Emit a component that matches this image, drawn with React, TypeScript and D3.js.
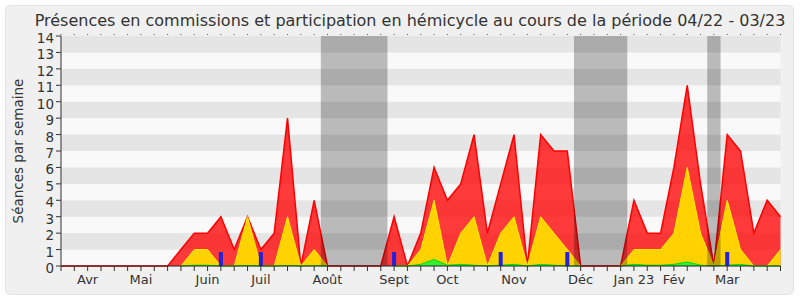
import React from "react";
import * as d3 from "d3";

const title = "Présences en commissions et participation en hémicycle au cours de la période 04/22 - 03/23";
const yLabel = "Séances par semaine";

// weekly values, week index 0..54
const redValues: number[] = [
  0, 0, 0, 0, 0, 0, 0, 0, 0, 1,
  2, 2, 3, 1, 3, 1, 2, 9, 0, 4,
  0, 0, 0, 0, 0, 3, 0, 2, 6, 4,
  5, 8, 2, 5, 8, 0, 8, 7, 7, 0,
  0, 0, 0, 4, 2, 2, 6, 11, 5, 0,
  8, 7, 2, 4, 3,
];
const yellowValues: (number | null)[] = [
  null, null, null, null, null, null, null, null, null, 0,
  1, 1, 0, 0, 3, 0, 0, 3, 0, 1,
  0, null, null, null, null, 0, 0, 1, 4, 0,
  2, 3, 0, 2, 3, 0, 3, 2, 1, 0,
  null, null, 0, 1, 1, 1, 2, 6, 2, 0,
  4, 1, 0, 0, 1,
];
const greenValues: (number | null)[] = [
  null, null, null, null, null, null, null, null, null, 0,
  0.05, 0.05, 0, 0, 0.03, 0, 0, 0.03, 0, 0.02,
  0, null, null, null, null, 0, 0, 0.1, 0.4, 0.05,
  0.1, 0.05, 0, 0.05, 0.1, 0, 0.1, 0.05, 0, 0,
  null, null, 0, 0.1, 0.05, 0.05, 0.1, 0.25, 0.05, 0,
  0.05, 0.1, 0, 0, 0,
];
const blueWeeks: number[] = [12, 15, 25, 33, 38, 50];
const blueValues: number[] = [0.85, 0.85, 0.85, 0.85, 0.85, 0.85];

const holidayStarts: number[] = [19.5, 38.5, 48.5];
const holidayEnds: number[] = [24.5, 42.5, 49.5];

const monthLabels: string[] = ["Avr", "Mai", "Juin", "Juil", "Août", "Sept", "Oct", "Nov", "Déc", "Jan 23", "Fév", "Mar"];
const monthWeeks: number[] = [2, 6, 11, 15, 20, 25, 29, 34, 39, 43, 46, 50];

const yTicks: number[] = d3.range(0, 15);

const W = 800;
const H = 300;
const FONT = "'DejaVu Sans', Verdana, sans-serif";

export default function App() {
  const nWeeks = redValues.length;
  const x = d3.scaleLinear().domain([0, nWeeks - 1]).range([61, 780.5]);
  const y = d3.scaleLinear().domain([0, 14]).range([266, 36]);

  type P = { i: number; v: number | null };
  const mk = (arr: (number | null)[]): P[] => arr.map((v, i) => ({ i, v }));

  const area = d3
    .area<P>()
    .defined((d) => d.v !== null)
    .x((d) => x(d.i))
    .y0(y(0))
    .y1((d) => y(d.v as number));
  const line = d3
    .line<P>()
    .defined((d) => d.v !== null)
    .x((d) => x(d.i))
    .y((d) => y(d.v as number));

  const red = mk(redValues);
  const yellow = mk(yellowValues);
  const green = mk(greenValues);

  const weeks = d3.range(0, nWeeks);

  return (
    <svg
      width={W}
      height={H}
      style={{ position: "absolute", left: 0, top: 0, background: "#fff" }}
      fontFamily={FONT}
    >
      <rect x={5.5} y={5.5} width={788} height={289} rx={5} fill="#f0f0f0" stroke="#e2e2e2" />
      <text x={410} y={26} textAnchor="middle" fontSize={16} fill="#333">
        {title}
      </text>

      {/* background bands */}
      {d3.range(0, 14).map((k) => (
        <rect
          key={"b" + k}
          x={x(0)}
          y={y(k + 1)}
          width={x(nWeeks - 1) - x(0)}
          height={y(k) - y(k + 1)}
          fill={k % 2 === 1 ? "#e5e5e5" : "#f9f9f9"}
        />
      ))}

      {/* red */}
      <path d={area(red) || ""} fill="rgba(255,0,0,0.77)" />
      <path d={line(red) || ""} fill="none" stroke="#ff0000" strokeWidth={1.5} />
      {/* yellow */}
      <path d={area(yellow) || ""} fill="#ffd200" />
      <path d={line(yellow) || ""} fill="none" stroke="#ffee00" strokeWidth={1} />
      {/* green */}
      <path d={area(green) || ""} fill="#33ee33" />
      <path d={line(green) || ""} fill="none" stroke="#00dd00" strokeWidth={1} />

      {/* holidays */}
      {holidayStarts.map((s, k) => (
        <rect
          key={"h" + k}
          x={x(s)}
          y={y(14)}
          width={x(holidayEnds[k]) - x(s)}
          height={y(0) - y(14)}
          fill="rgba(0,0,0,0.25)"
        />
      ))}

      {/* blue bars */}
      {blueWeeks.map((w, k) => (
        <rect
          key={"q" + k}
          x={x(w) - 2}
          y={y(blueValues[k])}
          width={4}
          height={y(0) - y(blueValues[k])}
          fill="#2222dd"
        />
      ))}

      {/* y axis */}
      <line x1={61} x2={61} y1={y(14)} y2={y(0)} stroke="#333" />
      {yTicks.map((t) => (
        <g key={"yt" + t}>
          <line x1={56} x2={61} y1={y(t)} y2={y(t)} stroke="#333" />
          <text x={54} y={y(t) + 7} textAnchor="end" fontSize={13.5} fill="#333">
            {t}
          </text>
        </g>
      ))}
      <text
        transform={`translate(23,${(y(0) + y(14)) / 2}) rotate(-90)`}
        textAnchor="middle"
        fontSize={13.5}
        fill="#333"
      >
        {yLabel}
      </text>

      {/* x axis */}
      <line x1={61} x2={x(nWeeks - 1)} y1={y(0)} y2={y(0)} stroke="#222" />
      {weeks.map((w) => (
        <g key={"xt" + w}>
          <line x1={x(w)} x2={x(w)} y1={y(0)} y2={y(0) + 5} stroke="#333" />
          <line x1={x(w)} x2={x(w)} y1={y(14) - 2} y2={y(14) - 1} stroke="#555" />
        </g>
      ))}
      {monthLabels.map((m, k) => (
        <text key={"m" + k} x={x(monthWeeks[k])} y={284} textAnchor="middle" fontSize={13} fill="#333">
          {m}
        </text>
      ))}
    </svg>
  );
}
